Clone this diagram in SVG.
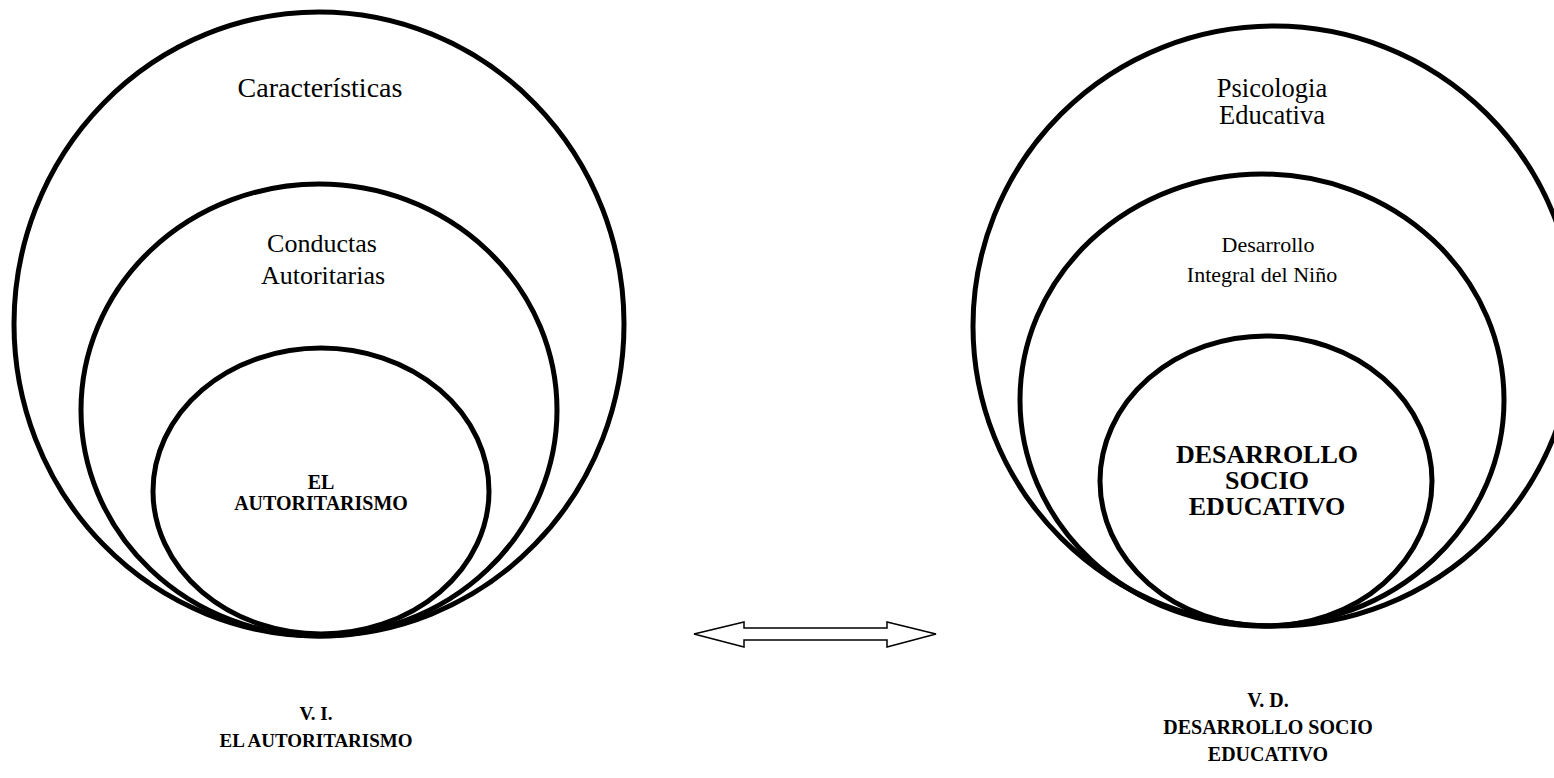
<svg xmlns="http://www.w3.org/2000/svg" width="1554" height="778" viewBox="0 0 1554 778">
<style>
.c{fill:none;stroke:#000;stroke-width:5}
.t{font-family:"Liberation Serif","Times New Roman",serif;fill:#000;text-anchor:middle}
.b{font-weight:bold}
</style>
<rect width="1554" height="778" fill="#fff"/>
<g id="left-outer"><ellipse class="c" cx="319" cy="324" rx="305" ry="312"/><text class="t" x="320" y="97" font-size="28">Características</text></g>
<g id="left-middle"><ellipse class="c" cx="319" cy="410" rx="238" ry="226"/><text class="t" x="322" y="252" font-size="26">Conductas</text><text class="t" x="323" y="284" font-size="26">Autoritarias</text></g>
<g id="left-inner"><ellipse class="c" cx="321" cy="491" rx="168" ry="143"/><text class="t b" x="321" y="489" font-size="20">EL</text><text class="t b" x="321" y="510" font-size="20">AUTORITARISMO</text></g>
<g id="right-outer"><ellipse class="c" cx="1274" cy="326" rx="301" ry="300"/><text class="t" x="1272" y="97" font-size="26.5">Psicologia</text><text class="t" x="1272" y="124" font-size="26.5">Educativa</text></g>
<g id="right-middle"><ellipse class="c" cx="1262" cy="400" rx="242" ry="226"/><text class="t" x="1268" y="252" font-size="22">Desarrollo</text><text class="t" x="1262" y="282" font-size="22">Integral del Niño</text></g>
<g id="right-inner"><ellipse class="c" cx="1266" cy="481" rx="166" ry="145"/><text class="t b" x="1267" y="463" font-size="26">DESARROLLO</text><text class="t b" x="1267" y="489" font-size="26">SOCIO</text><text class="t b" x="1267" y="515" font-size="26">EDUCATIVO</text></g>
<g id="connectors"><polygon points="694,634 744,622 744,628 887,628 887,622 936,634 887,647 887,640 744,640 744,647" fill="#fff" stroke="#000" stroke-width="1.5"/></g>
<g id="label-vi"><text class="t b" x="316" y="720" font-size="19">V. I.</text><text class="t b" x="316" y="747" font-size="19">EL AUTORITARISMO</text></g>
<g id="label-vd"><text class="t b" x="1268" y="707" font-size="20">V. D.</text><text class="t b" x="1268" y="734" font-size="20">DESARROLLO SOCIO</text><text class="t b" x="1268" y="761" font-size="20">EDUCATIVO</text></g>
</svg>
